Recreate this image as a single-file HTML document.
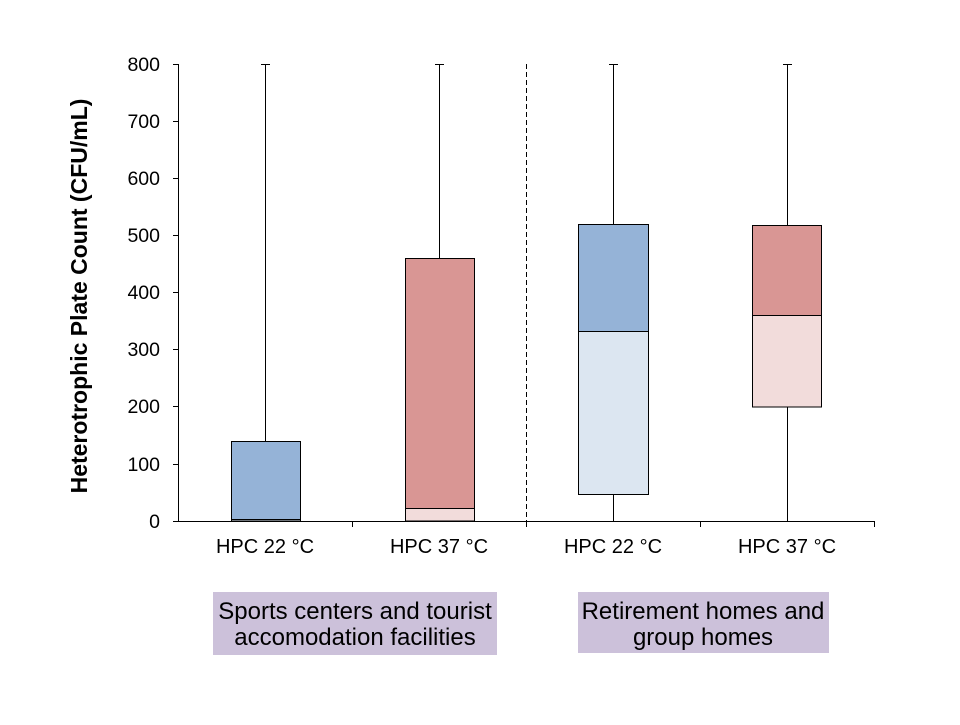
<!DOCTYPE html>
<html><head><meta charset="utf-8"><style>
body{margin:0;background:#fff;}
svg text{font-family:"Liberation Sans",Arial,sans-serif;fill:#000;}
</style></head><body>
<svg width="960" height="720" viewBox="0 0 960 720" xmlns="http://www.w3.org/2000/svg">
<rect width="960" height="720" fill="#fff"/>
<g stroke="#000" stroke-width="1">
<line x1="265.5" y1="64" x2="265.5" y2="441"/>
<line x1="261" y1="64.5" x2="270" y2="64.5"/>
<line x1="439.5" y1="64" x2="439.5" y2="258"/>
<line x1="435" y1="64.5" x2="444" y2="64.5"/>
<line x1="613.5" y1="64" x2="613.5" y2="224"/>
<line x1="609" y1="64.5" x2="618" y2="64.5"/>
<line x1="613.5" y1="494" x2="613.5" y2="521"/>
<line x1="787.5" y1="64" x2="787.5" y2="225"/>
<line x1="783" y1="64.5" x2="792" y2="64.5"/>
<line x1="787.5" y1="407" x2="787.5" y2="521"/>
</g>
<g stroke="#000" stroke-width="1">
<rect x="231.5" y="441.5" width="69" height="78" fill="#95b3d7"/>
<rect x="231.5" y="519.5" width="69" height="1.5" fill="#dce6f1"/>
<rect x="405.5" y="258.5" width="69" height="250" fill="#d99694"/>
<rect x="405.5" y="508.5" width="69" height="12.5" fill="#f2dcdb"/>
<rect x="578.5" y="224.5" width="70" height="107" fill="#95b3d7"/>
<rect x="578.5" y="331.5" width="70" height="163" fill="#dce6f1"/>
<rect x="752.5" y="225.5" width="69" height="90" fill="#d99694"/>
<rect x="752.5" y="315.5" width="69" height="91.5" fill="#f2dcdb"/>
</g>
<line x1="526.5" y1="64" x2="526.5" y2="521" stroke="#000" stroke-dasharray="5,3"/>
<g stroke="#000" stroke-width="1">
<line x1="178.5" y1="64" x2="178.5" y2="521"/>
<line x1="178" y1="521.5" x2="875" y2="521.5"/>
<line x1="173" y1="64.5" x2="178" y2="64.5"/>
<line x1="173" y1="121.5" x2="178" y2="121.5"/>
<line x1="173" y1="178.5" x2="178" y2="178.5"/>
<line x1="173" y1="235.5" x2="178" y2="235.5"/>
<line x1="173" y1="292.5" x2="178" y2="292.5"/>
<line x1="173" y1="349.5" x2="178" y2="349.5"/>
<line x1="173" y1="406.5" x2="178" y2="406.5"/>
<line x1="173" y1="464.5" x2="178" y2="464.5"/>
<line x1="173" y1="521.5" x2="178" y2="521.5"/>
<line x1="352.5" y1="521" x2="352.5" y2="527"/>
<line x1="526.5" y1="521" x2="526.5" y2="527"/>
<line x1="700.5" y1="521" x2="700.5" y2="527"/>
<line x1="874.5" y1="521" x2="874.5" y2="527"/>
</g>
<g font-size="19.5" text-anchor="end">
<text x="160" y="71">800</text><text x="160" y="128">700</text><text x="160" y="185">600</text>
<text x="160" y="242">500</text><text x="160" y="299">400</text><text x="160" y="356">300</text>
<text x="160" y="413">200</text><text x="160" y="471">100</text><text x="160" y="528">0</text>
</g>
<g font-size="20" text-anchor="middle">
<text x="265" y="553">HPC 22 °C</text><text x="439" y="553">HPC 37 °C</text>
<text x="613" y="553">HPC 22 °C</text><text x="787" y="553">HPC 37 °C</text>
</g>
<text transform="translate(87,296) rotate(-90)" font-size="23" font-weight="bold" text-anchor="middle">Heterotrophic Plate Count (CFU/mL)</text>
<rect x="213" y="592" width="284" height="63" fill="#ccc1da"/>
<rect x="578" y="592" width="251" height="61" fill="#ccc1da"/>
<g font-size="24" text-anchor="middle">
<text x="355" y="619">Sports centers and tourist</text>
<text x="355" y="645">accomodation facilities</text>
<text x="703" y="619">Retirement homes and</text>
<text x="703" y="645">group homes</text>
</g>
</svg>
</body></html>
